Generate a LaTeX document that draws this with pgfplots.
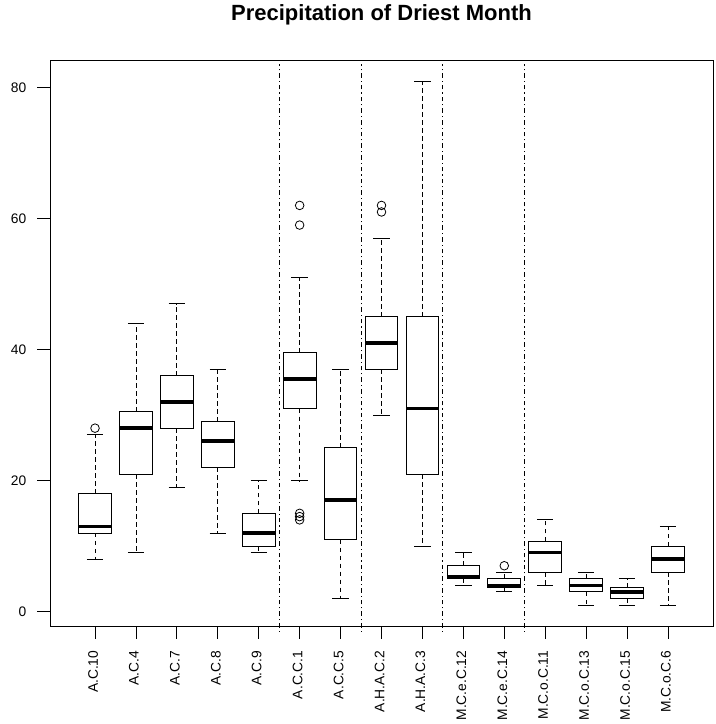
\documentclass[border=0pt]{standalone}
\usepackage{fontspec}
\setmainfont{Liberation Sans}
\usepackage{pgfplots}
\pgfplotsset{compat=1.18}
\usepgfplotslibrary{statistics}

\tikzset{sepline/.style={black, line width=1pt, dash pattern=on 1.2pt off 3pt on 4.5pt off 3pt}}

\pgfplotsset{
  rbox/.style={
    black, line width=0.9pt,
    mark=o, mark size=4.3pt,
    mark options={solid, line width=0.8pt, fill=none},
    boxplot/box extend=0.8,
    boxplot/every box/.style={draw=black, line width=0.9pt, fill=white},
    boxplot/every median/.style={line width=3.6pt},
    % dashed whisker stem with a solid cap half as wide as the box
    boxplot/draw/lower whisker/.code={
      \draw[line width=0.8pt, dash pattern=on 4.5pt off 3.5pt]
        (boxplot cs:\pgfplotsboxplotvalue{lower quartile}) --
        (boxplot cs:\pgfplotsboxplotvalue{lower whisker});
      \draw[line width=0.9pt]
        (boxplot box cs:\pgfplotsboxplotvalue{lower whisker},0.25) --
        (boxplot box cs:\pgfplotsboxplotvalue{lower whisker},0.75);
    },
    boxplot/draw/upper whisker/.code={
      \draw[line width=0.8pt, dash pattern=on 4.5pt off 3.5pt]
        (boxplot cs:\pgfplotsboxplotvalue{upper quartile}) --
        (boxplot cs:\pgfplotsboxplotvalue{upper whisker});
      \draw[line width=0.9pt]
        (boxplot box cs:\pgfplotsboxplotvalue{upper whisker},0.25) --
        (boxplot box cs:\pgfplotsboxplotvalue{upper whisker},0.75);
    },
  },
}

\begin{document}
\begin{tikzpicture}
\begin{axis}[
  name=ax,
  width=663pt, height=566pt, scale only axis,
  xmin=-0.1, xmax=16.1, ymin=-2.2, ymax=84.2,
  boxplot/draw direction=y,
  clip=false,
  xtick={1,...,15},
  xticklabels={A.C.10,A.C.4,A.C.7,A.C.8,A.C.9,A.C.C.1,A.C.C.5,A.H.A.C.2,A.H.A.C.3,M.C.e.C.12,M.C.e.C.14,M.C.o.C.11,M.C.o.C.13,M.C.o.C.15,M.C.o.C.6},
  ytick={0,20,40,60,80},
  tick align=outside, xtick pos=bottom, ytick pos=left,
  major tick length=12.5pt,
  every tick/.style={black, line width=0.8pt},
  axis line style={line width=0.9pt},
  /pgf/number format/assume math mode=true,
  tick label style={font=\fontsize{13.8}{16}\selectfont},
  x tick label style={xshift=-2pt, yshift=-12pt, rotate=90, anchor=east, inner sep=0pt},
  y tick label style={xshift=-11pt, anchor=east, inner sep=0pt},
  title={Precipitation of Driest Month},
  title style={font=\bfseries\fontsize{22}{26}\selectfont, at={(0.5,1)}, anchor=base, yshift=33pt},
]
% group separators
\draw[sepline] (axis cs:5.5,-3.1) -- (axis cs:5.5,83.6);
\draw[sepline] (axis cs:7.5,-3.1) -- (axis cs:7.5,83.6);
\draw[sepline] (axis cs:9.5,-3.1) -- (axis cs:9.5,83.6);
\draw[sepline] (axis cs:11.5,-3.1) -- (axis cs:11.5,83.6);

% A.C.10
\addplot[rbox, boxplot prepared={draw position=1, lower whisker=8, lower quartile=12, median=13, upper quartile=18, upper whisker=27}] coordinates {(1,28)};
% A.C.4
\addplot[rbox, boxplot prepared={draw position=2, lower whisker=9, lower quartile=21, median=28, upper quartile=30.5, upper whisker=44}] coordinates {};
% A.C.7
\addplot[rbox, boxplot prepared={draw position=3, lower whisker=19, lower quartile=28, median=32, upper quartile=36, upper whisker=47}] coordinates {};
% A.C.8
\addplot[rbox, boxplot prepared={draw position=4, lower whisker=12, lower quartile=22, median=26, upper quartile=29, upper whisker=37}] coordinates {};
% A.C.9
\addplot[rbox, boxplot prepared={draw position=5, lower whisker=9, lower quartile=10, median=12, upper quartile=15, upper whisker=20}] coordinates {};
% A.C.C.1
\addplot[rbox, boxplot prepared={draw position=6, lower whisker=20, lower quartile=31, median=35.5, upper quartile=39.5, upper whisker=51}] coordinates {(6,14) (6,14.5) (6,15) (6,59) (6,62)};
% A.C.C.5
\addplot[rbox, boxplot prepared={draw position=7, lower whisker=2, lower quartile=11, median=17, upper quartile=25, upper whisker=37}] coordinates {};
% A.H.A.C.2
\addplot[rbox, boxplot prepared={draw position=8, lower whisker=30, lower quartile=37, median=41, upper quartile=45, upper whisker=57}] coordinates {(8,61) (8,62)};
% A.H.A.C.3
\addplot[rbox, boxplot prepared={draw position=9, lower whisker=10, lower quartile=21, median=31, upper quartile=45, upper whisker=81}] coordinates {};
% M.C.e.C.12
\addplot[rbox, boxplot prepared={draw position=10, lower whisker=4, lower quartile=5, median=5.3, upper quartile=7, upper whisker=9}] coordinates {};
% M.C.e.C.14
\addplot[rbox, boxplot prepared={draw position=11, lower whisker=3, lower quartile=3.75, median=4, upper quartile=5, upper whisker=6}] coordinates {(11,7)};
% M.C.o.C.11
\addplot[rbox, boxplot prepared={draw position=12, lower whisker=4, lower quartile=6, median=9, upper quartile=10.7, upper whisker=14}] coordinates {};
% M.C.o.C.13
\addplot[rbox, boxplot prepared={draw position=13, lower whisker=1, lower quartile=3, median=4, upper quartile=5, upper whisker=6}] coordinates {};
% M.C.o.C.15
\addplot[rbox, boxplot prepared={draw position=14, lower whisker=1, lower quartile=2, median=3, upper quartile=3.75, upper whisker=5}] coordinates {};
% M.C.o.C.6
\addplot[rbox, boxplot prepared={draw position=15, lower whisker=1, lower quartile=6, median=8, upper quartile=10, upper whisker=13}] coordinates {};
\end{axis}
\pgfresetboundingbox
\path[use as bounding box] ([xshift=-50pt,yshift=-98pt]ax.south west) rectangle ([xshift=2pt,yshift=60pt]ax.north east);
\end{tikzpicture}
\end{document}
